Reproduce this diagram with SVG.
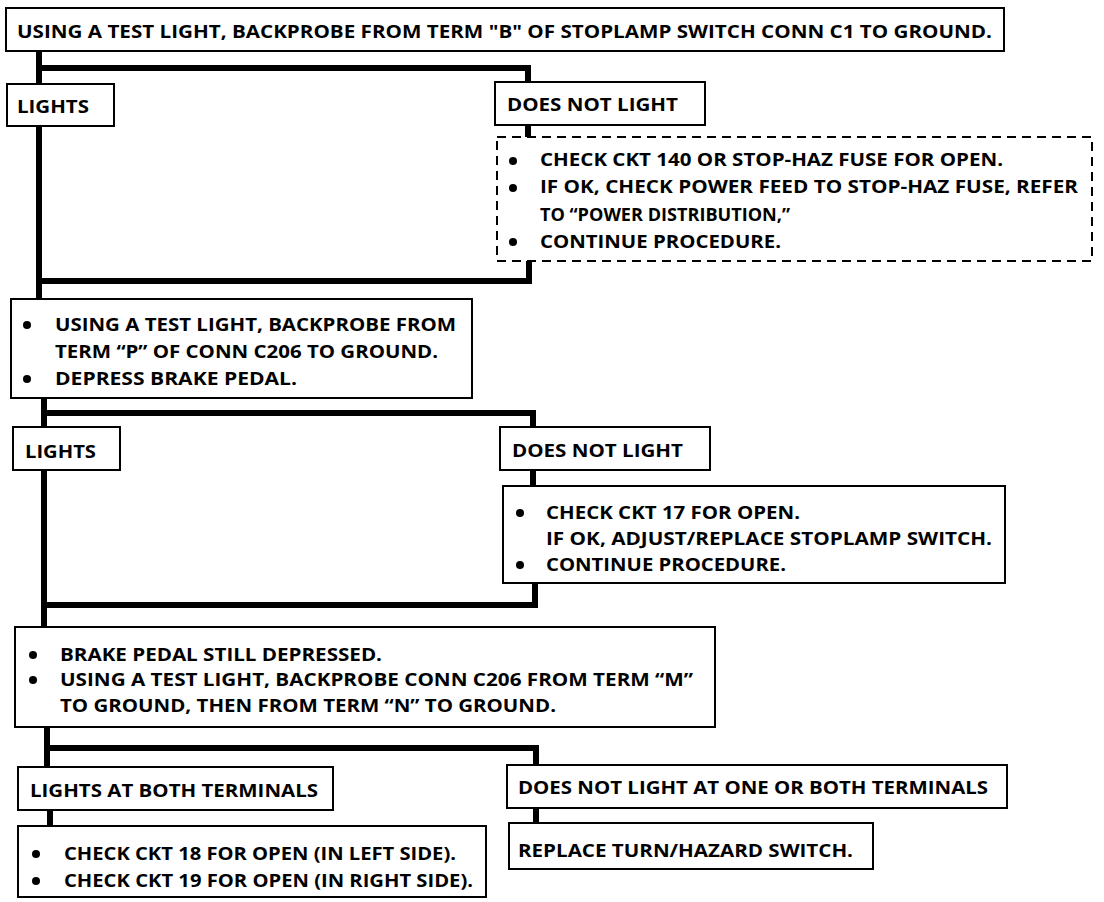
<svg xmlns="http://www.w3.org/2000/svg" width="1104" height="902" viewBox="0 0 1104 902">
<style>
.bx{fill:#fff;stroke:#000;stroke-width:2}
.dash{fill:#fff;stroke:#000;stroke-width:2;stroke-dasharray:9 6}
.cn{fill:none;stroke:#000;stroke-width:6;stroke-linejoin:miter}
.t{font-family:"Open Sans","Liberation Sans",sans-serif;font-weight:700;font-size:17px;fill:#000}
.b{fill:#000}
</style>
<rect width="1104" height="902" fill="#fff"/>
<g id="connectors">
<path class="cn" d="M39 51 V299"/>
<path class="cn" d="M39 68 H528 V82"/>
<path class="cn" d="M528 125 V137"/>
<path class="cn" d="M529 261 V281 H39"/>
<path class="cn" d="M44 398 V627"/>
<path class="cn" d="M44 413 H533 V427"/>
<path class="cn" d="M533 470 V486"/>
<path class="cn" d="M535 583 V605 H44"/>
<path class="cn" d="M47 727 V767"/>
<path class="cn" d="M47 748 H536 V765"/>
<path class="cn" d="M536 808 V823"/>
<path class="cn" d="M50 810 V826"/>
</g>
<g id="n-start">
<rect class="bx" x="6" y="8" width="998" height="43"/>
<text class="t" x="17" y="38" textLength="975" lengthAdjust="spacingAndGlyphs">USING A TEST LIGHT, BACKPROBE FROM TERM "B" OF STOPLAMP SWITCH CONN C1 TO GROUND.</text>
</g>
<g id="n-lights1">
<rect class="bx" x="7" y="84" width="107" height="42"/>
<text class="t" x="17" y="113" textLength="72" lengthAdjust="spacingAndGlyphs">LIGHTS</text>
</g>
<g id="n-dnl1">
<rect class="bx" x="495" y="82" width="210" height="43"/>
<text class="t" x="507" y="111" textLength="171" lengthAdjust="spacingAndGlyphs">DOES NOT LIGHT</text>
</g>
<g id="n-fuse">
<rect class="dash" x="497" y="137" width="595" height="124"/>
<circle class="b" cx="513" cy="161" r="4"/>
<circle class="b" cx="513" cy="188" r="4"/>
<circle class="b" cx="513" cy="242" r="4"/>
<text class="t" x="540" y="166" textLength="463" lengthAdjust="spacingAndGlyphs">CHECK CKT 140 OR STOP-HAZ FUSE FOR OPEN.</text>
<text class="t" x="540" y="193" textLength="538" lengthAdjust="spacingAndGlyphs">IF OK, CHECK POWER FEED TO STOP-HAZ FUSE, REFER</text>
<text class="t" x="540" y="221" font-size="18" textLength="250" lengthAdjust="spacingAndGlyphs">TO “POWER DISTRIBUTION,”</text>
<text class="t" x="540" y="248" textLength="241" lengthAdjust="spacingAndGlyphs">CONTINUE PROCEDURE.</text>
</g>
<g id="n-c206p">
<rect class="bx" x="11" y="299" width="461" height="99"/>
<circle class="b" cx="27" cy="325" r="4"/>
<circle class="b" cx="27" cy="379" r="4"/>
<text class="t" x="55" y="331" textLength="401" lengthAdjust="spacingAndGlyphs">USING A TEST LIGHT, BACKPROBE FROM</text>
<text class="t" x="55" y="358" textLength="383" lengthAdjust="spacingAndGlyphs">TERM “P” OF CONN C206 TO GROUND.</text>
<text class="t" x="55" y="385" textLength="242" lengthAdjust="spacingAndGlyphs">DEPRESS BRAKE PEDAL.</text>
</g>
<g id="n-lights2">
<rect class="bx" x="13" y="427" width="107" height="43"/>
<text class="t" x="25" y="458" textLength="71" lengthAdjust="spacingAndGlyphs">LIGHTS</text>
</g>
<g id="n-dnl2">
<rect class="bx" x="500" y="427" width="210" height="43"/>
<text class="t" x="512" y="457" textLength="171" lengthAdjust="spacingAndGlyphs">DOES NOT LIGHT</text>
</g>
<g id="n-ckt17">
<rect class="bx" x="503" y="486" width="502" height="97"/>
<circle class="b" cx="520" cy="513" r="4"/>
<circle class="b" cx="520" cy="565" r="4"/>
<text class="t" x="546" y="519" textLength="254" lengthAdjust="spacingAndGlyphs">CHECK CKT 17 FOR OPEN.</text>
<text class="t" x="546" y="545" textLength="446" lengthAdjust="spacingAndGlyphs">IF OK, ADJUST/REPLACE STOPLAMP SWITCH.</text>
<text class="t" x="546" y="571" textLength="240" lengthAdjust="spacingAndGlyphs">CONTINUE PROCEDURE.</text>
</g>
<g id="n-c206mn">
<rect class="bx" x="15" y="627" width="700" height="100"/>
<circle class="b" cx="33" cy="655" r="4"/>
<circle class="b" cx="33" cy="680" r="4"/>
<text class="t" x="60" y="661" textLength="322" lengthAdjust="spacingAndGlyphs">BRAKE PEDAL STILL DEPRESSED.</text>
<text class="t" x="60" y="686" textLength="633" lengthAdjust="spacingAndGlyphs">USING A TEST LIGHT, BACKPROBE CONN C206 FROM TERM “M”</text>
<text class="t" x="60" y="712" textLength="496" lengthAdjust="spacingAndGlyphs">TO GROUND, THEN FROM TERM “N” TO GROUND.</text>
</g>
<g id="n-both">
<rect class="bx" x="18" y="767" width="315" height="43"/>
<text class="t" x="30" y="797" textLength="288" lengthAdjust="spacingAndGlyphs">LIGHTS AT BOTH TERMINALS</text>
</g>
<g id="n-one">
<rect class="bx" x="507" y="765" width="500" height="43"/>
<text class="t" x="518" y="794" textLength="470" lengthAdjust="spacingAndGlyphs">DOES NOT LIGHT AT ONE OR BOTH TERMINALS</text>
</g>
<g id="n-ckt1819">
<rect class="bx" x="18" y="826" width="468" height="71"/>
<circle class="b" cx="36" cy="854" r="4"/>
<circle class="b" cx="36" cy="881" r="4"/>
<text class="t" x="64" y="860" textLength="392" lengthAdjust="spacingAndGlyphs">CHECK CKT 18 FOR OPEN (IN LEFT SIDE).</text>
<text class="t" x="64" y="887" textLength="409" lengthAdjust="spacingAndGlyphs">CHECK CKT 19 FOR OPEN (IN RIGHT SIDE).</text>
</g>
<g id="n-replace">
<rect class="bx" x="509" y="823" width="364" height="46"/>
<text class="t" x="518" y="857" textLength="335" lengthAdjust="spacingAndGlyphs">REPLACE TURN/HAZARD SWITCH.</text>
</g>
</svg>
